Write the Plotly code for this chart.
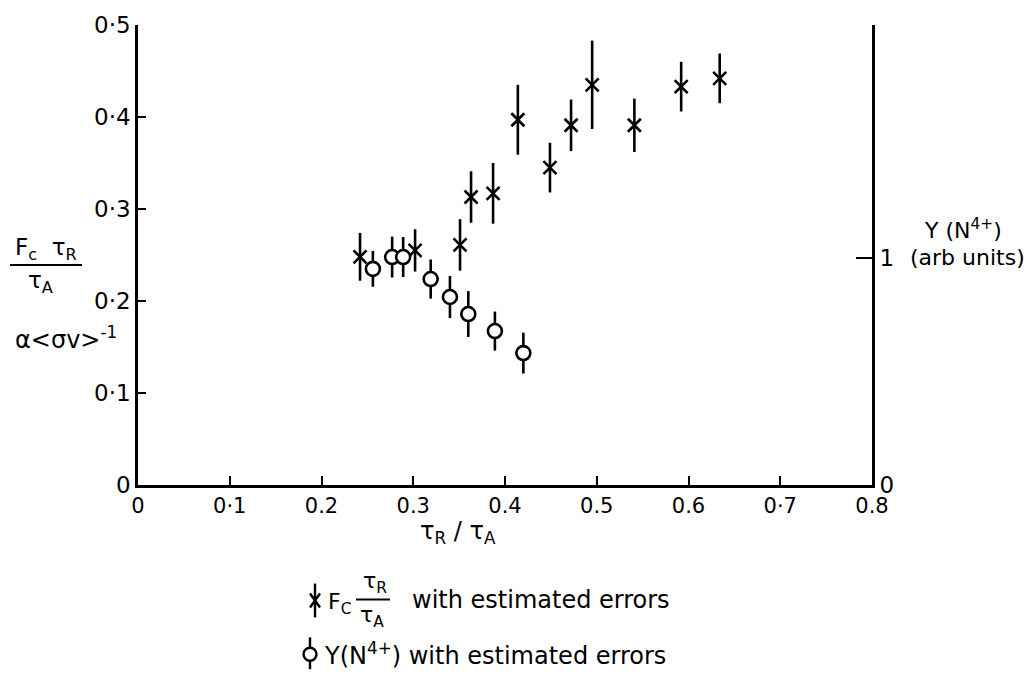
import plotly.graph_objects as go

# ---- data ----
fc_x = [0.242, 0.302, 0.351, 0.363, 0.387, 0.414, 0.449, 0.472, 0.495, 0.541, 0.592, 0.634]
fc_y = [0.248, 0.255, 0.261, 0.313, 0.317, 0.397, 0.345, 0.391, 0.435, 0.391, 0.433, 0.442]
fc_err = [0.026, 0.023, 0.028, 0.028, 0.033, 0.038, 0.027, 0.028, 0.048, 0.029, 0.027, 0.027]

yn_x = [0.256, 0.277, 0.289, 0.319, 0.340, 0.360, 0.389, 0.420]
yn_y = [0.952, 1.004, 1.004, 0.907, 0.828, 0.753, 0.678, 0.581]
yn_err = [0.079, 0.090, 0.088, 0.086, 0.093, 0.101, 0.086, 0.090]

x_ticks = [0, 0.1, 0.2, 0.3, 0.4, 0.5, 0.6, 0.7, 0.8]
x_ticktext = ["0", "0·1", "0.2", "0.3", "0.4", "0.5", "0.6", "0·7", "0.8"]
y_ticks = [0, 0.1, 0.2, 0.3, 0.4, 0.5]
y_ticktext = ["0", "0·1", "0·2", "0·3", "0·4", "0·5"]
y2_ticks = [0, 1, 2.026]
y2_ticktext = ["0", "1", ""]

# ---- geometry ----
W, H = 1031, 674
L, R, T, B = 138, 1031 - 872, 23, 674 - 485
FONT = "DejaVu Sans, Lato, sans-serif"


def px(x):
    return (x - L) / (W - L - R)


def py(y):
    return (H - B - y) / (H - B - T)


fig = go.Figure()

fig.add_trace(go.Scatter(
    x=fc_x, y=fc_y, mode="markers", name="Fc",
    marker=dict(symbol="x-thin", size=13, line=dict(width=2.6, color="black"), color="black"),
    error_y=dict(type="data", array=fc_err, visible=True, color="black", thickness=2.6, width=0),
    showlegend=False,
))
fig.add_trace(go.Scatter(
    x=yn_x, y=yn_y, mode="markers", name="Y", yaxis="y2",
    marker=dict(symbol="circle", size=14, color="white", line=dict(width=2.6, color="black")),
    error_y=dict(type="data", array=yn_err, visible=True, color="black", thickness=2.6, width=0),
    showlegend=False,
))

yfont = dict(family=FONT, size=23, color="black")
xfont = dict(family=FONT, size=21, color="black")

fig.update_layout(
    width=W, height=H,
    margin=dict(l=L, r=R, t=T, b=B, pad=0),
    paper_bgcolor="white", plot_bgcolor="white",
    font=dict(family=FONT, color="black"),
    xaxis=dict(range=[0, 0.8], tickvals=x_ticks, ticktext=x_ticktext, ticks="inside",
               ticklen=9, tickwidth=2, tickcolor="black", showline=True, linecolor="black",
               linewidth=2.6, showgrid=False, zeroline=False, tickfont=xfont),
    yaxis=dict(range=[0, 0.5], tickvals=y_ticks, ticktext=y_ticktext, ticks="inside",
               ticklen=8, tickwidth=2, tickcolor="black", showline=True, linecolor="black",
               linewidth=2.6, showgrid=False, zeroline=False, tickfont=yfont),
    yaxis2=dict(range=[0, 2.026], overlaying="y", side="right", tickvals=y2_ticks,
                ticktext=y2_ticktext, ticks="inside", ticklen=16, tickwidth=2, tickcolor="black",
                showline=True, linecolor="black", linewidth=2.6, showgrid=False, zeroline=False,
                tickfont=yfont),
)

ann = []


def add_text(text, x, y, size=20, xanchor="center"):
    ann.append(dict(text=text, x=px(x), y=py(y), xref="paper", yref="paper",
                    xanchor=xanchor, yanchor="middle", showarrow=False,
                    font=dict(family=FONT, size=size, color="black")))


# left axis title
add_text("F<sub>c</sub>  τ<sub>R</sub>", 46, 248, 23)
add_text("τ<sub>A</sub>", 40, 281, 23)
add_text("α&lt;σv&gt;<sup>-1</sup>", 66, 337, 24)
# right axis title
add_text("Y (N<sup>4+</sup>)", 963, 228, 22)
add_text("(arb units)", 967, 257, 22)
# x axis title
add_text("τ<sub>R</sub> / τ<sub>A</sub>", 458, 533, 24)
# key
add_text("F<sub>C</sub>", 326, 604, 22, "left")
add_text("τ<sub>R</sub>", 375, 583, 22)
add_text("τ<sub>A</sub>", 372, 617, 22)
add_text("with estimated errors", 410, 601, 24, "left")
add_text("Y(N<sup>4+</sup>) with estimated errors", 322, 655, 24, "left")

shapes = []


def line(x0, y0, x1, y1, w=2.2):
    shapes.append(dict(type="line", xref="paper", yref="paper", x0=px(x0), y0=py(y0),
                       x1=px(x1), y1=py(y1), line=dict(color="black", width=w), layer="above"))


# fraction bars
line(356, 600, 390, 600, 2)
line(10, 264, 82, 264, 2)
# key glyph: cross with bar
line(315, 584, 315, 618, 2.4)
line(310, 594, 320, 608, 2.4)
line(320, 594, 310, 608, 2.4)
# key glyph: circle with bar
line(310, 638, 310, 670, 2.4)
shapes.append(dict(type="circle", xref="paper", yref="paper", x0=px(303.5), x1=px(316.5),
                   y0=py(661.5), y1=py(648.5), line=dict(color="black", width=2.4),
                   fillcolor="white", layer="above"))

fig.update_layout(annotations=ann, shapes=shapes)

fig.write_html("out.html", config={"displayModeBar": False},
               post_script="document.body.style.margin='0';")
